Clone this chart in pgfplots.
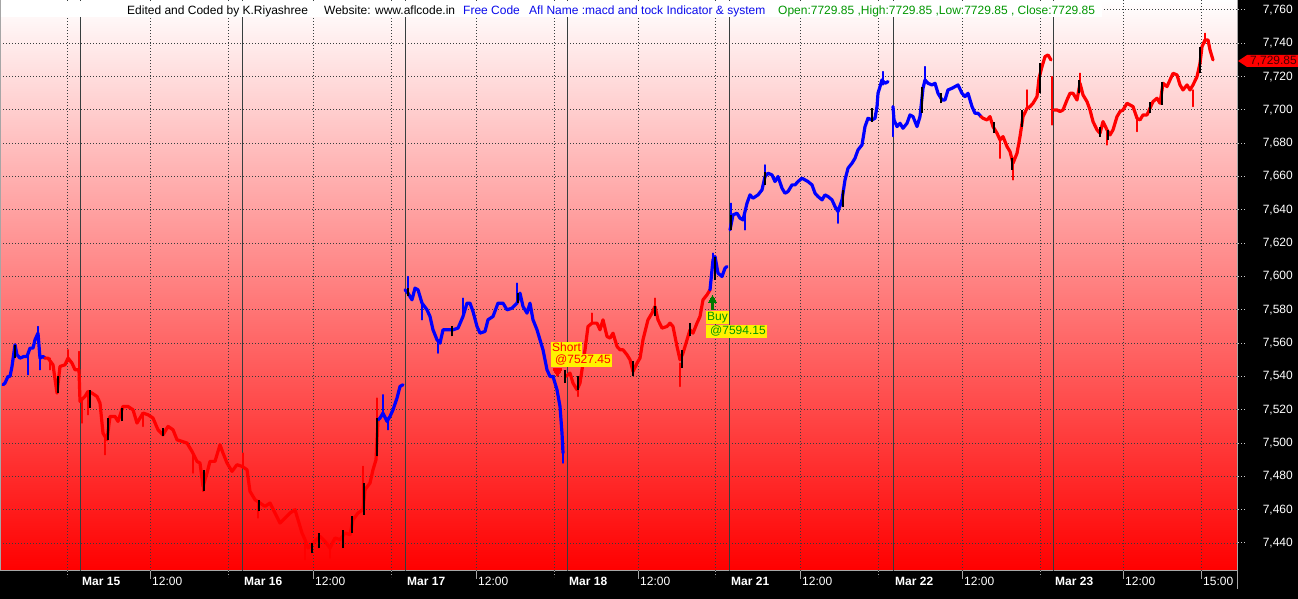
\documentclass[border=0pt]{standalone}
\usepackage{fontspec}
\setmainfont{Liberation Sans}
\usepackage{pgfplots}
\pgfplotsset{compat=1.18}
\usetikzlibrary{calc}
\pgfdeclarelayer{background}
\pgfsetlayers{background,main}
\definecolor{gridc}{RGB}{55,62,62}
\definecolor{cblue}{RGB}{0,0,255}
\definecolor{cred}{RGB}{255,0,0}
\definecolor{tgreen}{RGB}{0,150,0}
\definecolor{tblue}{RGB}{10,10,235}
\definecolor{bgreen}{RGB}{0,120,0}
\newcommand{\f}{\fontsize{12}{14}\selectfont}
\begin{document}
\begin{tikzpicture}[x=1pt,y=1pt]
\begin{axis}[scale only axis,
  width=1237pt, height=571pt,
  xmin=0, xmax=1237, ymin=7423.2, ymax=7766.0,
  axis background/.style={top color=white, bottom color=red},
  axis line style={draw=gray!70, line width=1pt},
  tick style={draw=none},
  ytick={7440,7460,...,7760},
  yticklabel pos=right,
  ymajorgrids,
  grid style={gridc, line width=1pt, dash pattern=on 1pt off 2pt},
  /pgf/number format/.cd, 1000 sep={,}, assume math mode=true, /pgfplots/.cd,
  yticklabel style={anchor=east, xshift=56pt, inner sep=0pt, text=white, font=\f},
  xtick={80,242,405,567,729,893,1053},
  xticklabels={{\bfseries Mar 15},{\bfseries Mar 16},{\bfseries Mar 17},{\bfseries Mar 18},{\bfseries Mar 21},{\bfseries Mar 22},{\bfseries Mar 23}},
  extra x ticks={150,313,476,638,800,962,1123,1201},
  extra x tick labels={12:00,12:00,12:00,12:00,12:00,12:00,12:00,15:00},
  xticklabel style={anchor=west, text=white, font=\f, yshift=-10.5pt, inner sep=2pt},
  unbounded coords=jump,
]
\coordinate (ll) at (rel axis cs:0,0);
% vertical separators
\pgfplotsinvokeforeach{80,242,405,567,729,893,1053}{
  \draw[gridc, line width=1pt] (axis cs:#1,7423.2) -- (axis cs:#1,7766);}
\pgfplotsinvokeforeach{67,150,228,313,391,476,554,638,715,800,878,962,1040,1123,1201}{
  \draw[gridc, line width=1pt, dash pattern=on 1pt off 2pt] (axis cs:#1,7423.2) -- (axis cs:#1,7766);}

% wicks
\addplot[cblue, line width=1.2pt] coordinates {(28,7541)(28,7553)(28,nan)(38,7560)(38,7570)(38,nan)(40,7544)(40,7552)(40,nan)(383,7529)(383,7516)(383,nan)(388,7508)(388,7515)(388,nan)(408,7600)(408,7590)(408,nan)(422,7574)(422,7584)(422,nan)(438,7554)(438,7562)(438,nan)(463,7587)(463,7576)(463,nan)(517,7596)(517,7584)(517,nan)(563,7488)(563,7496)(563,nan)(713,7614)(713,7606)(713,nan)(731,7644)(731,7630)(731,nan)(745,7628)(745,7640)(745,nan)(765,7667)(765,7658)(765,nan)(838,7632)(838,7640)(838,nan)(883,7723)(883,7715)(883,nan)(893,7684)(893,7700)(893,nan)(925,7726)(925,7716)};
\addplot[cred, line width=1.2pt] coordinates {(50,7544)(50,7551)(50,nan)(68,7556)(68,7549)(68,nan)(79,7555)(79,7544)(79,nan)(82,7512)(82,7525)(82,nan)(88,7517)(88,7530)(88,nan)(105,7493)(105,7504)(105,nan)(143,7510)(143,7518)(143,nan)(193,7482)(193,7494)(193,nan)(203,7471)(203,7478)(203,nan)(243,7494)(243,7486)(243,nan)(258,7455)(258,7465)(258,nan)(305,7430)(305,7442)(305,nan)(330,7431)(330,7438)(330,nan)(363,7486)(363,7462)(363,nan)(377,7527)(377,7495)(377,nan)(578,7528)(578,7533)(578,nan)(592,7578)(592,7572)(592,nan)(655,7587)(655,7580)(655,nan)(680,7534)(680,7548)(680,nan)(1000,7671)(1000,7682)(1000,nan)(1013,7658)(1013,7668)(1013,nan)(1027,7712)(1027,7702)(1027,nan)(1052,7720)(1052,7691)(1052,nan)(1080,7722)(1080,7712)(1080,nan)(1107,7679)(1107,7688)(1107,nan)(1137,7687)(1137,7695)(1137,nan)(1193,7702)(1193,7712)(1193,nan)(1205,7746)(1205,7740)};

\pgfplotsset{every axis plot/.append style={line width=3.2pt, line join=round, line cap=round}}
% A blue
\addplot[cblue] coordinates {(3,7535)(5,7536)(8,7540)(10,7540)(12,7546)(15,7559)(17,7553)(20,7551)(24,7552)(27,7552)(30,7557)(33,7557)(35,7562)(38,7566)(40,7551)(43,7552)(45,7551)};
% B red
\addplot[cred] coordinates {(45,7551)(48,7551)(53,7547)(57,7530)(60,7546)(65,7547)(68,7551)(72,7548)(75,7544)(79,7544)(80,7525)(85,7528)(88,7531)(92,7530)(97,7528)(100,7524)(103,7506)(107,7502)(110,7516)(115,7516)(118,7513)(123,7522)(128,7522)(133,7520)(137,7512)(143,7518)(148,7517)(153,7515)(158,7508)(163,7505)(168,7510)(173,7508)(177,7502)(182,7501)(187,7500)(192,7495)(197,7489)(200,7488)(203,7474)(207,7482)(210,7489)(215,7489)(220,7499)(223,7494)(227,7488)(232,7483)(237,7487)(242,7486)(247,7484)(250,7471)(255,7466)(260,7464)(265,7462)(270,7464)(275,7458)(280,7452)(285,7455)(290,7458)(295,7460)(298,7454)(302,7446)(305,7442)(308,7437)(313,7440)(320,7444)(325,7441)(330,7437)(335,7443)(340,7442)(345,7446)(350,7445)(353,7454)(358,7458)(363,7460)(365,7472)(370,7476)(373,7484)(376,7490)(378,7514)};
% C blue
\addplot[cblue] coordinates {(378,7514)(380,7515)(383,7518)(387,7513)(390,7516)(393,7520)(397,7527)(400,7534)(403,7535)};
% D blue
\addplot[cblue] coordinates {(405,7592)(408,7590)(412,7586)(415,7593)(418,7592)(422,7584)(427,7580)(430,7576)(433,7568)(437,7562)(440,7560)(443,7568)(448,7568)(453,7568)(458,7569)(463,7576)(467,7584)(470,7584)(473,7579)(477,7570)(480,7566)(485,7567)(488,7574)(493,7576)(498,7584)(503,7584)(507,7580)(512,7581)(517,7584)(520,7590)(523,7582)(527,7578)(530,7584)(533,7574)(537,7568)(540,7562)(543,7556)(547,7544)(550,7540)(553,7540)(557,7532)(560,7522)(562,7506)(563,7494)};
% E red
\addplot[cred] coordinates {(566,7540)(570,7542)(573,7536)(577,7532)(580,7536)(582,7544)(585,7556)(588,7570)(592,7572)(597,7572)(600,7568)(603,7574)(607,7564)(610,7563)(613,7566)(617,7558)(620,7556)(623,7556)(627,7553)(630,7550)(633,7543)(637,7548)(640,7551)(643,7562)(648,7574)(652,7578)(655,7582)(658,7574)(662,7569)(667,7570)(670,7572)(673,7570)(677,7558)(680,7550)(683,7554)(687,7562)(690,7568)(693,7566)(697,7572)(700,7576)(703,7586)(707,7589)(710,7592)};
% F blue
\addplot[cblue] coordinates {(710,7592)(713,7610)(715,7612)(718,7602)(722,7600)(725,7605)(727,7606)};
\addplot[cblue] coordinates {(730,7628)(733,7637)(737,7638)(740,7635)(743,7634)(747,7644)(750,7649)(753,7647)(758,7649)(762,7652)(765,7660)(768,7662)(772,7661)(775,7657)(778,7660)(782,7653)(785,7650)(788,7651)(792,7655)(795,7655)(798,7657)(802,7659)(805,7658)(808,7657)(812,7655)(815,7650)(818,7648)(822,7646)(825,7649)(828,7648)(832,7646)(835,7642)(838,7639)(842,7646)(845,7658)(848,7665)(852,7668)(855,7671)(858,7676)(862,7679)(865,7690)(868,7695)(872,7694)(875,7695)(877,7702)(878,7710)(882,7718)(885,7716)(888,7717)};
% G blue
\addplot[cblue] coordinates {(893,7702)(894,7694)(897,7690)(900,7692)(903,7689)(907,7692)(910,7697)(913,7696)(917,7690)(920,7696)(923,7713)(925,7718)(928,7716)(932,7715)(935,7716)(938,7710)(942,7706)(945,7706)(948,7712)(952,7713)(955,7714)(958,7715)(962,7710)(965,7708)(968,7710)(972,7702)(975,7698)(978,7698)(981,7696)};
% H red
\addplot[cred] coordinates {(981,7696)(983,7695)(987,7694)(990,7696)(993,7690)(997,7686)(1000,7682)(1003,7684)(1007,7678)(1010,7675)(1013,7668)(1017,7674)(1020,7684)(1023,7696)(1027,7701)(1030,7702)(1033,7704)(1037,7708)(1039,7719)(1042,7726)(1045,7732)(1048,7733)(1051,7730)};
% I red
\addplot[cred] coordinates {(1054,7700)(1057,7700)(1060,7699)(1063,7700)(1067,7706)(1070,7710)(1073,7710)(1077,7706)(1080,7716)(1083,7709)(1087,7705)(1090,7700)(1093,7693)(1097,7688)(1100,7686)(1103,7693)(1107,7688)(1110,7685)(1113,7688)(1117,7696)(1120,7699)(1123,7700)(1127,7704)(1130,7703)(1133,7702)(1137,7695)(1140,7694)(1143,7697)(1147,7697)(1150,7701)(1153,7705)(1157,7707)(1160,7704)(1163,7716)(1167,7714)(1170,7718)(1173,7722)(1177,7721)(1180,7715)(1183,7712)(1187,7715)(1190,7712)(1193,7715)(1197,7720)(1200,7728)(1202,7738)(1205,7742)(1208,7742)(1210,7736)(1213,7730)};
% black candle bodies
\addplot[black, line width=2pt, line cap=butt] coordinates {(15,7551)(15,7559)(15,nan)(58,7530)(58,7540)(58,nan)(90,7521)(90,7532)(90,nan)(108,7502)(108,7515)(108,nan)(122,7513)(122,7521)(122,nan)(163,7504)(163,7509)(163,nan)(204,7471)(204,7484)(204,nan)(259,7459)(259,7466)(259,nan)(312,7434)(312,7440)(312,nan)(319,7437)(319,7446)(319,nan)(343,7437)(343,7448)(343,nan)(352,7446)(352,7456)(352,nan)(364,7457)(364,7476)(364,nan)(377,7492)(377,7515)(377,nan)(408,7588)(408,7593)(408,nan)(452,7564)(452,7570)(452,nan)(518,7584)(518,7590)(518,nan)(565,7536)(565,7544)(565,nan)(578,7532)(578,7540)(578,nan)(633,7540)(633,7549)(633,nan)(655,7576)(655,7582)(655,nan)(682,7545)(682,7556)(682,nan)(690,7564)(690,7572)(690,nan)(715,7598)(715,7612)(715,nan)(731,7628)(731,7637)(731,nan)(765,7655)(765,7663)(765,nan)(843,7642)(843,7652)(843,nan)(872,7693)(872,7701)(872,nan)(922,7698)(922,7714)(922,nan)(941,7704)(941,7710)(941,nan)(994,7686)(994,7693)(994,nan)(1012,7664)(1012,7671)(1012,nan)(1022,7690)(1022,7700)(1022,nan)(1040,7710)(1040,7728)(1040,nan)(1079,7710)(1079,7718)(1079,nan)(1100,7684)(1100,7690)(1100,nan)(1108,7682)(1108,7688)(1108,nan)(1150,7698)(1150,7705)(1150,nan)(1162,7703)(1162,7717)(1162,nan)(1200,7722)(1200,7738)};
% signals
\addplot[only marks, mark=triangle*, mark size=5pt, mark options={rotate=180, fill=red, draw=red, line width=0pt}] coordinates {(557.5,7543)};
\addplot[bgreen, line width=2.2pt, line cap=butt] coordinates {(712.5,7586)(712.5,7580)};
\addplot[only marks, mark=triangle*, mark size=4.5pt, mark options={fill=bgreen, draw=bgreen, line width=0pt}] coordinates {(712.5,7586)};
\end{axis}
\begin{scope}[shift={($(ll)+(0,-28)$)}]
\begin{pgfonlayer}{background}
\fill[black] (0,0) rectangle (1298,599);
\end{pgfonlayer}
% title strip
\fill[white] (1,582) rectangle (1102,598);
\node[anchor=base west, inner sep=0pt, font=\f] at (127,584.5) {Edited and Coded by K.Riyashree};
\node[anchor=base west, inner sep=0pt, font=\f] at (324,584.5) {Website: www.aflcode.in};
\node[anchor=base west, inner sep=0pt, font=\f, text=tblue] at (463,584.5) {Free Code};
\node[anchor=base west, inner sep=0pt, font=\f, text=tblue] at (529,584.5) {Afl Name :macd and tock Indicator \& system};
\node[anchor=base west, inner sep=0pt, font=\f, text=tgreen] at (778,584.5) {Open:7729.85 ,High:7729.85 ,Low:7729.85 , Close:7729.85};
% annotations
\node[anchor=north west, fill=yellow, text=red, font=\f, inner xsep=1pt, inner ysep=0.5pt, text height=9pt, text depth=2.5pt] at (551,257) {Short};
\node[anchor=north west, fill=yellow, text=red, font=\f, inner xsep=1pt, inner ysep=0.5pt, text height=9pt, text depth=2.5pt] at (551,245) {\hspace{3pt}@7527.45};
\node[anchor=north west, fill=yellow, text=tgreen, font=\f, inner xsep=1pt, inner ysep=0.5pt, text height=9pt, text depth=2.5pt] at (706,288) {Buy};
\node[anchor=north west, fill=yellow, text=tgreen, font=\f, inner xsep=1pt, inner ysep=0.5pt, text height=9pt, text depth=2.5pt] at (706,274) {\hspace{3pt}@7594.15};
% last price marker
\fill[red] (1238,538) -- (1247,544) -- (1298,544) -- (1298,532) -- (1247,532) -- cycle;
\node[font=\f, text={rgb,255:red,70;green,0;blue,0}, anchor=east, inner sep=0pt] at (1297,538) {7,729.85};
\draw[gray!70, line width=1pt] (1237,28) -- (1237,10);
% small ticks below the axis
\foreach \t in {150,313,476,638,800,962,1123,1201}
  \draw[gray!70, line width=1pt] (\t,28) -- (\t,20);
\foreach \t in {67,228,391,554,715,878,1040}
  \draw[gray!70, line width=1pt, dash pattern=on 1pt off 2pt] (\t,28) -- (\t,22);
% right-axis tick marks
\foreach \p in {0,...,16}
  \draw[gray!40, line width=1pt, dash pattern=on 1pt off 2pt] (1238,{599-10-33.31*\p}) -- (1245,{599-10-33.31*\p});
\pgfresetboundingbox
\useasboundingbox (0,0) rectangle (1298,599);
\end{scope}
\end{tikzpicture}
\end{document}
